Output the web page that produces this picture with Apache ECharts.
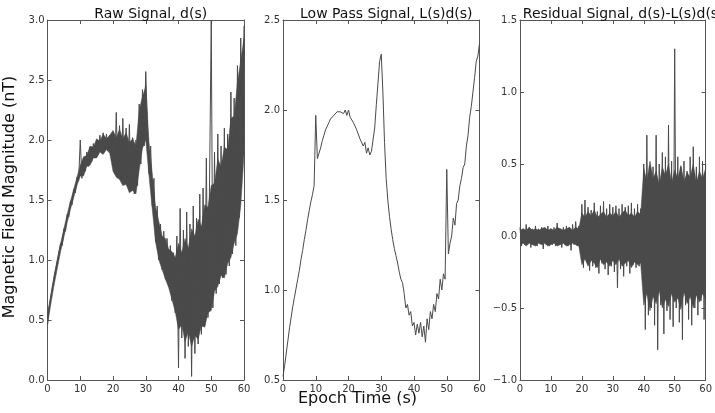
<!DOCTYPE html>
<html>
<head>
<meta charset="utf-8">
<script src="https://cdn.jsdelivr.net/npm/echarts@6/dist/echarts.min.js"></script>
<style>
html,body{margin:0;padding:0;background:#fff;}
#chart{width:715px;height:413px;}
</style>
</head>
<body>
<div id="chart"></div>
<script>
// Sample grids (s)
const sampleStep = 0.5;    // spike/trace samples: 0, 0.5, ... 60
const envelopeStep = 1;    // envelope samples: 0, 1, ... 60

const panelTitles = ['Raw Signal, d(s)', 'Low Pass Signal, L(s)d(s)', 'Residual Signal, d(s)-L(s)d(s)'];
const xTicks = [0, 10, 20, 30, 40, 50, 60];
const yRanges = [[0.0, 3.0], [0.5, 2.5], [-1.0, 1.5]];

// Raw signal d(s): peaks/troughs every 0.5 s
const rawSignal = [
  0.46, 0.60, 0.70, 0.70, 0.86, 0.85, 1.00, 0.99, 1.14, 1.12,
  1.26, 1.24, 1.38, 1.36, 1.49, 1.46, 1.59, 1.56, 1.69, 1.66,
  2.00, 1.68, 1.85, 1.74, 1.90, 1.78, 1.94, 1.82, 1.97, 1.85,
  2.00, 1.88, 2.04, 1.90, 2.06, 1.92, 2.05, 1.91, 2.04, 1.92,
  2.05, 1.72, 2.23, 1.70, 2.12, 1.66, 2.18, 1.65, 2.10, 1.62,
  2.13, 1.60, 2.02, 1.55, 2.00, 1.62, 2.30, 1.80, 2.42, 1.95,
  2.57, 2.12, 1.72, 1.95, 1.45, 1.68, 1.15, 1.45, 1.00, 1.30,
  0.92, 1.24, 0.84, 1.18, 0.78, 1.12, 0.66, 1.06, 0.56, 1.20,
  0.10, 1.43, 0.35, 1.25, 0.18, 1.40, 0.28, 1.30, 0.03, 1.45,
  0.22, 1.35, 0.30, 1.55, 0.38, 1.60, 0.45, 1.85, 0.52, 1.70,
  3.00, 0.60, 1.90, 0.72, 2.05, 0.80, 1.95, 0.85, 2.10, 0.88,
  2.05, 0.95, 2.40, 1.05, 2.35, 1.12, 2.62, 1.35, 2.85, 1.85,
  2.95
];
// Raw signal dense body: upper / lower edges every 1 s
const rawUpper = [
  0.56, 0.70, 0.86, 1.00, 1.14, 1.26, 1.38, 1.49, 1.59, 1.69,
  1.79, 1.86, 1.87, 1.95, 1.94, 2.01, 1.99, 2.05, 2.01, 2.04,
  2.08, 2.02, 2.09, 2.01, 2.06, 1.98, 2.01, 1.95, 2.25, 2.36,
  2.45, 1.98, 1.72, 1.44, 1.32, 1.20, 1.18, 1.09, 1.07, 1.02,
  1.14, 1.06, 1.18, 1.10, 1.26, 1.20, 1.34, 1.28, 1.46, 1.44,
  1.62, 1.64, 1.84, 1.78, 1.94, 1.92, 2.18, 2.20, 2.48, 2.66,
  2.85
];
const rawLower = [
  0.46, 0.63, 0.79, 0.93, 1.07, 1.19, 1.31, 1.42, 1.52, 1.62,
  1.70, 1.70, 1.78, 1.79, 1.85, 1.85, 1.90, 1.88, 1.92, 1.89,
  1.74, 1.69, 1.67, 1.62, 1.63, 1.56, 1.58, 1.55, 1.75, 1.93,
  2.00, 1.70, 1.42, 1.15, 1.00, 0.92, 0.84, 0.77, 0.67, 0.57,
  0.42, 0.46, 0.32, 0.40, 0.28, 0.37, 0.34, 0.45, 0.44, 0.56,
  0.58, 0.74, 0.78, 0.87, 0.85, 0.97, 1.02, 1.14, 1.22, 1.45,
  1.88
];

// Low pass signal L(s)d(s), every 0.5 s
const lowPassSignal = [
  0.52, 0.58, 0.65, 0.72, 0.79, 0.85, 0.91, 0.96, 1.01, 1.06,
  1.11, 1.17, 1.22, 1.28, 1.33, 1.39, 1.44, 1.49, 1.53, 1.58,
  1.97, 1.73, 1.76, 1.79, 1.83, 1.86, 1.89, 1.91, 1.93, 1.95,
  1.96, 1.97, 1.98, 1.99, 2.00, 1.99, 2.00, 1.98, 2.00, 1.97,
  2.00, 1.96, 1.95, 1.93, 1.92, 1.89, 1.88, 1.84, 1.85, 1.80,
  1.82, 1.76, 1.79, 1.75, 1.77, 1.78, 1.90, 2.03, 2.15, 2.27,
  2.31, 2.10, 1.82, 1.62, 1.50, 1.41, 1.34, 1.28, 1.23, 1.19,
  1.15, 1.10, 1.06, 1.04, 0.98, 0.90, 0.92, 0.86, 0.88, 0.80,
  0.82, 0.75, 0.81, 0.76, 0.82, 0.74, 0.80, 0.71, 0.84, 0.78,
  0.88, 0.84, 0.92, 0.88, 0.98, 0.95, 1.06, 1.00, 1.09, 1.06,
  1.67, 1.20, 1.26, 1.30, 1.40, 1.36, 1.48, 1.50, 1.58, 1.62,
  1.68, 1.70, 1.80, 1.86, 1.96, 2.02, 2.10, 2.18, 2.27, 2.30,
  2.37
];

// Residual signal d(s)-L(s)d(s): peaks/troughs every 0.5 s
const residualSignal = [
  0.06, -0.07, 0.05, -0.06, 0.08, -0.05, 0.06, -0.08, 0.05, -0.06,
  0.07, -0.07, 0.05, -0.05, 0.06, -0.09, 0.05, -0.06, 0.07, -0.07,
  0.05, -0.06, 0.06, -0.07, 0.09, -0.06, 0.05, -0.08, 0.06, -0.06,
  0.07, -0.07, 0.06, -0.10, 0.08, -0.06, 0.10, -0.07, 0.07, -0.06,
  0.22, -0.22, 0.25, -0.18, 0.20, -0.24, 0.18, -0.21, 0.23, -0.22,
  0.17, -0.26, 0.21, -0.19, 0.24, -0.23, 0.19, -0.27, 0.22, -0.21,
  0.20, -0.25, 0.21, -0.36, 0.19, -0.23, 0.22, -0.28, 0.20, -0.21,
  0.21, -0.26, 0.23, -0.20, 0.19, -0.22, 0.22, -0.21, 0.19, -0.23,
  0.50, -0.65, 0.70, -0.55, 0.45, -0.50, 0.48, -0.62, 0.70, -0.79,
  0.50, -0.48, 0.58, -0.68, 0.55, -0.52, 0.77, -0.58, 0.52, -0.63,
  1.30, -0.50, 0.55, -0.60, 0.48, -0.72, 0.52, -0.48, 0.45, -0.58,
  0.55, -0.62, 0.62, -0.50, 0.48, -0.55, 0.55, -0.45, 0.52, -0.58,
  0.50
];
// Residual dense body: upper / lower edges every 1 s
const residualUpper = [
  0.04, 0.05, 0.04, 0.06, 0.04, 0.05, 0.04, 0.05, 0.06, 0.04,
  0.05, 0.04, 0.06, 0.05, 0.04, 0.05, 0.06, 0.04, 0.06, 0.05,
  0.16, 0.13, 0.17, 0.14, 0.18, 0.13, 0.15, 0.17, 0.13, 0.16,
  0.14, 0.17, 0.13, 0.16, 0.18, 0.14, 0.16, 0.13, 0.17, 0.15,
  0.47, 0.38, 0.52, 0.40, 0.45, 0.36, 0.48, 0.42, 0.50, 0.37,
  0.46, 0.40, 0.49, 0.38, 0.44, 0.41, 0.50, 0.37, 0.45, 0.40,
  0.47
];
const residualLower = [
  -0.06, -0.05, -0.07, -0.05, -0.06, -0.07, -0.05, -0.06, -0.05, -0.07,
  -0.06, -0.05, -0.07, -0.06, -0.05, -0.07, -0.06, -0.05, -0.06, -0.07,
  -0.20, -0.16, -0.21, -0.17, -0.19, -0.22, -0.16, -0.20, -0.18, -0.21,
  -0.17, -0.20, -0.16, -0.21, -0.19, -0.17, -0.22, -0.18, -0.20, -0.19,
  -0.48, -0.40, -0.52, -0.42, -0.47, -0.38, -0.50, -0.44, -0.49, -0.40,
  -0.46, -0.43, -0.51, -0.39, -0.47, -0.42, -0.50, -0.41, -0.46, -0.40,
  -0.44
];

const signals = [rawSignal, lowPassSignal, residualSignal];
const envelopes = [[rawUpper, rawLower], null, [residualUpper, residualLower]];

const FONT = 'DejaVu Sans';
const gridLefts = [47.5, 283, 520];
const gridWidth = 196.5;
const gridTop = 20;
const gridHeight = 360;
const frameColor = '#555';
const lineColor = '#4a4a4a';

function fmt(v) {
  return v.toFixed(1).replace('-', '\u2212');
}

function makeBandRenderer(up, lo) {
  return function (params, api) {
    if (params.dataIndex !== 0) return null;
    const pts = [];
    for (let k = 0; k < up.length; k++) pts.push(api.coord([k * envelopeStep, up[k]]));
    for (let k = lo.length - 1; k >= 0; k--) pts.push(api.coord([k * envelopeStep, lo[k]]));
    return {type: 'polygon', shape: {points: pts}, style: {fill: lineColor, stroke: lineColor, lineWidth: 0.5}};
  };
}

const grids = [], xAxes = [], yAxes = [], series = [], titles = [];
for (let i = 0; i < 3; i++) {
  grids.push({left: gridLefts[i], top: gridTop, width: gridWidth, height: gridHeight});
  const common = {
    type: 'value', gridIndex: i, min: xTicks[0], max: xTicks[xTicks.length - 1], interval: 10,
    axisLine: {show: true, onZero: false, lineStyle: {color: frameColor, width: 1}},
    axisTick: {show: true, inside: true, length: 4, lineStyle: {color: frameColor}},
    splitLine: {show: false}
  };
  xAxes.push(Object.assign({}, common, {
    position: 'bottom',
    axisLabel: {show: true, color: '#333', fontSize: 10, fontFamily: FONT, margin: 4}
  }));
  xAxes.push(Object.assign({}, common, {
    position: 'top', axisLabel: {show: false}
  }));
  const ycommon = {
    type: 'value', gridIndex: i, min: yRanges[i][0], max: yRanges[i][1], interval: 0.5,
    axisLine: {show: true, onZero: false, lineStyle: {color: frameColor, width: 1}},
    axisTick: {show: true, inside: true, length: 4, lineStyle: {color: frameColor}},
    splitLine: {show: false}
  };
  yAxes.push(Object.assign({}, ycommon, {
    position: 'left',
    axisLabel: {show: true, color: '#333', fontSize: 10, fontFamily: FONT, margin: 3, formatter: fmt}
  }));
  yAxes.push(Object.assign({}, ycommon, {
    position: 'right', axisLabel: {show: false}
  }));

  const env = envelopes[i];
  if (env) {
    const up = env[0], lo = env[1];
    series.push({
      type: 'custom', xAxisIndex: i * 2, yAxisIndex: i * 2, clip: true, silent: true, z: 1,
      data: up.map((v, k) => [k * envelopeStep, lo[k], v]),
      encode: {x: 0, y: [1, 2]},
      renderItem: makeBandRenderer(up, lo)
    });
  }
  const sig = signals[i];
  series.push({
    type: 'line', xAxisIndex: i * 2, yAxisIndex: i * 2,
    data: sig.map((v, k) => [k * sampleStep, v]),
    showSymbol: false, symbol: 'none', sampling: null, clip: true,
    lineStyle: {color: lineColor, width: 1}, z: 2
  });
  titles.push({
    text: panelTitles[i], left: gridLefts[i] + gridWidth / 2, top: 2, textAlign: 'center',
    textStyle: {fontFamily: FONT, fontSize: 14, fontWeight: 'normal', color: '#111'}
  });
}

const chart = echarts.init(document.getElementById('chart'), null, {renderer: 'canvas'});
chart.setOption({
  animation: false,
  backgroundColor: '#fff',
  title: titles,
  grid: grids,
  xAxis: xAxes,
  yAxis: yAxes,
  series: series,
  graphic: [
    {type: 'text', left: 'center', top: 391,
     style: {text: 'Epoch Time (s)', font: '16px "DejaVu Sans"', fill: '#111'}},
    {type: 'text', x: 10, y: 197, rotation: Math.PI / 2,
     style: {text: 'Magnetic Field Magnitude (nT)', font: '16px "DejaVu Sans"', fill: '#111',
             align: 'center', verticalAlign: 'middle'}}
  ]
});
</script>
</body>
</html>
